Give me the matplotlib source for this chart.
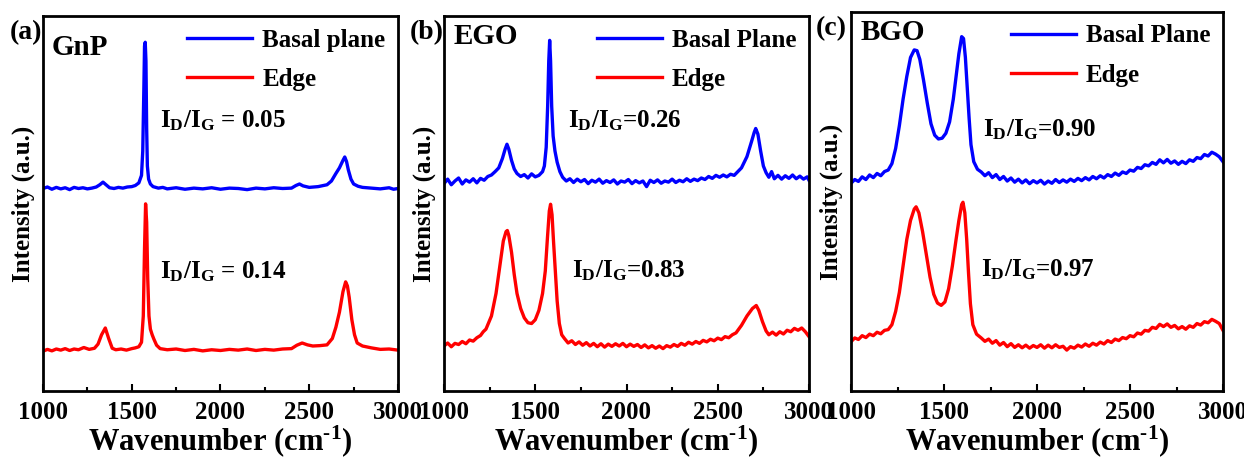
import matplotlib.pyplot as plt

plt.rcParams['font.family'] = 'Liberation Serif'
plt.rcParams['font.weight'] = 'bold'
plt.rcParams['mathtext.fontset'] = 'custom'
plt.rcParams['mathtext.rm'] = 'Liberation Serif:bold'
plt.rcParams['mathtext.it'] = 'Liberation Serif:bold'
plt.rcParams['mathtext.bf'] = 'Liberation Serif:bold'

# spectra as (wavenumber, intensity) pairs, intensity in axes units 0..1

# (a) GnP
gnp_basal = [(1000, .540), (1025, .544), (1050, .538), (1075, .543), (1100, .539), (1125, .542), (1150, .537),
             (1175, .543), (1200, .540), (1225, .542), (1250, .539), (1275, .541), (1300, .544), (1320, .550),
             (1338, .557), (1355, .550), (1375, .542), (1400, .540), (1425, .543), (1450, .541), (1475, .544),
             (1500, .545), (1520, .548), (1540, .555), (1555, .575), (1562, .640), (1568, .800), (1572, .920),
             (1576, .930), (1580, .880), (1584, .700), (1588, .600), (1595, .565), (1605, .552), (1620, .545),
             (1650, .541), (1675, .543), (1700, .539), (1750, .542), (1800, .538), (1850, .541), (1900, .539),
             (1950, .542), (2000, .538), (2050, .541), (2100, .540), (2150, .537), (2200, .541), (2250, .539),
             (2300, .542), (2350, .540), (2400, .541), (2425, .548), (2445, .552), (2465, .547), (2500, .543),
             (2550, .545), (2600, .550), (2625, .560), (2650, .580), (2670, .595), (2690, .615), (2700, .624),
             (2710, .612), (2720, .590), (2735, .565), (2750, .552), (2775, .546), (2800, .543), (2850, .541),
             (2900, .539), (2950, .542), (2975, .538), (3000, .540)]
gnp_edge = [(1000, .106), (1025, .111), (1050, .107), (1075, .112), (1100, .109), (1125, .113), (1150, .108),
            (1175, .112), (1200, .110), (1230, .116), (1260, .111), (1290, .114), (1310, .125), (1330, .150),
            (1351, .168), (1370, .140), (1390, .114), (1410, .110), (1440, .112), (1470, .109), (1500, .113),
            (1520, .115), (1540, .118), (1555, .130), (1565, .200), (1572, .380), (1578, .499), (1584, .450),
            (1590, .300), (1597, .200), (1605, .165), (1615, .150), (1625, .138), (1640, .122), (1660, .113),
            (1700, .110), (1750, .112), (1800, .108), (1850, .111), (1900, .107), (1950, .110), (2000, .108),
            (2050, .111), (2100, .109), (2150, .112), (2200, .108), (2250, .111), (2300, .109), (2350, .112),
            (2400, .113), (2430, .122), (2460, .128), (2490, .123), (2520, .120), (2560, .121), (2600, .123),
            (2630, .140), (2650, .170), (2670, .210), (2690, .265), (2705, .291), (2715, .280), (2725, .250),
            (2740, .190), (2755, .150), (2770, .128), (2800, .120), (2850, .115), (2900, .111), (2950, .112),
            (3000, .109)]

# (b) EGO
ego_basal = [(1000, .553), (1020, .565), (1040, .550), (1060, .560), (1080, .568), (1100, .552), (1120, .563),
             (1140, .557), (1160, .566), (1180, .555), (1200, .567), (1220, .562), (1240, .572), (1260, .576),
             (1280, .585), (1300, .595), (1320, .620), (1335, .645), (1345, .658), (1355, .645), (1370, .615),
             (1385, .592), (1400, .580), (1420, .572), (1440, .577), (1460, .568), (1480, .579), (1500, .571),
             (1520, .575), (1540, .585), (1550, .600), (1560, .650), (1568, .760), (1574, .880), (1579, .935),
             (1584, .880), (1590, .760), (1598, .680), (1608, .640), (1620, .610), (1635, .585), (1650, .570),
             (1670, .560), (1690, .566), (1710, .556), (1730, .565), (1750, .558), (1770, .564), (1790, .553),
             (1810, .562), (1830, .557), (1850, .565), (1870, .554), (1890, .561), (1910, .556), (1930, .563),
             (1950, .552), (1970, .560), (1990, .557), (2010, .564), (2030, .553), (2050, .561), (2070, .555),
             (2090, .560), (2110, .545), (2130, .562), (2150, .556), (2170, .563), (2190, .554), (2210, .560),
             (2230, .557), (2250, .565), (2270, .556), (2290, .562), (2310, .558), (2330, .566), (2350, .559),
             (2370, .565), (2390, .561), (2410, .568), (2430, .564), (2450, .572), (2470, .567), (2490, .575),
             (2510, .570), (2530, .576), (2550, .571), (2570, .578), (2590, .575), (2610, .585), (2630, .595),
             (2660, .625), (2685, .665), (2700, .690), (2708, .700), (2720, .685), (2735, .640), (2750, .600),
             (2765, .582), (2780, .570), (2795, .585), (2810, .566), (2830, .575), (2850, .565), (2870, .574),
             (2890, .567), (2910, .576), (2930, .566), (2950, .573), (2970, .565), (2990, .571), (3000, .562)]
ego_edge = [(1000, .120), (1020, .128), (1040, .118), (1060, .127), (1080, .124), (1100, .132), (1120, .126),
            (1140, .136), (1160, .133), (1180, .142), (1200, .148), (1215, .158), (1230, .165), (1260, .200),
            (1285, .260), (1305, .330), (1325, .400), (1340, .425), (1347, .428), (1355, .415), (1370, .370),
            (1385, .310), (1400, .260), (1420, .220), (1440, .195), (1460, .182), (1480, .180), (1500, .190),
            (1520, .215), (1540, .260), (1555, .320), (1567, .410), (1577, .480), (1584, .498), (1592, .470),
            (1600, .400), (1610, .320), (1620, .240), (1632, .180), (1645, .150), (1660, .140), (1680, .128),
            (1700, .134), (1720, .124), (1740, .131), (1760, .122), (1780, .129), (1800, .120), (1820, .127),
            (1840, .118), (1860, .126), (1880, .117), (1900, .125), (1920, .119), (1940, .126), (1960, .120),
            (1980, .127), (2000, .118), (2020, .125), (2040, .119), (2060, .124), (2080, .116), (2100, .123),
            (2120, .115), (2140, .121), (2160, .114), (2180, .120), (2200, .113), (2220, .121), (2240, .117),
            (2260, .124), (2280, .119), (2300, .127), (2320, .122), (2340, .130), (2360, .125), (2380, .132),
            (2400, .127), (2420, .135), (2440, .131), (2460, .138), (2480, .134), (2500, .141), (2520, .137),
            (2540, .145), (2560, .142), (2580, .150), (2600, .155), (2630, .175), (2660, .200), (2690, .220),
            (2711, .228), (2725, .215), (2745, .185), (2765, .160), (2780, .150), (2800, .157), (2820, .149),
            (2840, .158), (2860, .152), (2880, .162), (2900, .158), (2920, .167), (2940, .162), (2960, .168),
            (2980, .158), (3000, .145)]

# (c) BGO
bgo_basal = [(1000, .548), (1020, .558), (1040, .553), (1060, .565), (1080, .558), (1100, .570), (1120, .563),
             (1140, .574), (1160, .568), (1180, .579), (1200, .583), (1220, .600), (1240, .640), (1260, .700),
             (1280, .770), (1300, .830), (1320, .880), (1340, .900), (1355, .898), (1370, .875), (1390, .820),
             (1410, .760), (1430, .705), (1450, .675), (1470, .665), (1490, .667), (1510, .680), (1530, .710),
             (1550, .770), (1565, .830), (1580, .890), (1595, .935), (1605, .930), (1615, .880), (1625, .800),
             (1635, .720), (1645, .650), (1660, .605), (1680, .585), (1700, .578), (1720, .568), (1740, .576),
             (1760, .563), (1780, .571), (1800, .558), (1820, .566), (1840, .554), (1860, .562), (1880, .551),
             (1900, .559), (1920, .549), (1940, .557), (1960, .547), (1980, .555), (2000, .549), (2020, .556),
             (2040, .546), (2060, .554), (2080, .548), (2100, .558), (2120, .550), (2140, .557), (2160, .551),
             (2180, .559), (2200, .553), (2220, .561), (2240, .555), (2260, .563), (2280, .557), (2300, .566),
             (2320, .560), (2340, .568), (2360, .562), (2380, .571), (2400, .566), (2420, .575), (2440, .569),
             (2460, .578), (2480, .574), (2500, .583), (2520, .580), (2540, .590), (2560, .587), (2580, .597),
             (2600, .594), (2620, .603), (2640, .598), (2660, .610), (2680, .602), (2700, .611), (2720, .601),
             (2740, .607), (2760, .598), (2780, .606), (2800, .600), (2820, .610), (2840, .606), (2860, .616),
             (2880, .613), (2900, .624), (2920, .620), (2940, .630), (2960, .625), (2980, .618), (3000, .605)]
bgo_edge = [(1000, .130), (1020, .140), (1040, .136), (1060, .146), (1080, .141), (1100, .150), (1120, .146),
            (1140, .155), (1160, .151), (1180, .160), (1200, .162), (1220, .175), (1240, .210), (1260, .260),
            (1280, .330), (1300, .400), (1320, .450), (1340, .480), (1350, .486), (1365, .470), (1385, .420),
            (1405, .360), (1425, .300), (1445, .255), (1465, .232), (1485, .226), (1505, .235), (1525, .270),
            (1545, .330), (1565, .400), (1580, .450), (1595, .492), (1602, .498), (1612, .470), (1622, .400),
            (1632, .310), (1642, .230), (1655, .175), (1675, .150), (1700, .140), (1720, .131), (1740, .137),
            (1760, .126), (1780, .133), (1800, .121), (1820, .128), (1840, .117), (1860, .125), (1880, .115),
            (1900, .122), (1920, .114), (1940, .121), (1960, .113), (1980, .120), (2000, .115), (2020, .122),
            (2040, .113), (2060, .121), (2080, .114), (2100, .122), (2120, .115), (2140, .118), (2160, .108),
            (2180, .117), (2200, .113), (2220, .121), (2240, .116), (2260, .124), (2280, .118), (2300, .126),
            (2320, .121), (2340, .129), (2360, .124), (2380, .133), (2400, .128), (2420, .137), (2440, .133),
            (2460, .141), (2480, .138), (2500, .146), (2520, .143), (2540, .153), (2560, .150), (2580, .160),
            (2600, .158), (2620, .168), (2640, .165), (2660, .176), (2680, .170), (2700, .177), (2720, .168),
            (2740, .173), (2760, .164), (2780, .170), (2800, .163), (2820, .172), (2840, .168), (2860, .178),
            (2880, .174), (2900, .183), (2920, .180), (2940, .189), (2960, .184), (2980, .178), (3000, .160)]

tags = ["(a)", "(b)", "(c)"]
names = ["GnP", "EGO", "BGO"]
basal_labels = ["Basal plane", "Basal Plane", "Basal Plane"]
ratio_basal = [r"$\mathrm{I_D/I_G}$ = 0.05", r"$\mathrm{I_D/I_G}$=0.26", r"$\mathrm{I_D/I_G}$=0.90"]
ratio_edge = [r"$\mathrm{I_D/I_G}$ = 0.14", r"$\mathrm{I_D/I_G}$=0.83", r"$\mathrm{I_D/I_G}$=0.97"]
spectra = [(gnp_basal, gnp_edge), (ego_basal, ego_edge), (bgo_basal, bgo_edge)]

# axes rectangles in pixels: left, top, right, bottom
boxes = [(43, 16, 398, 391), (444, 16, 809, 391), (851, 12, 1223, 391)]
ratio_pos = [((0.33, 0.72), (0.33, 0.317)), ((0.34, 0.72), (0.35, 0.32)), ((0.355, 0.69), (0.35, 0.32))]

W, H = 1244, 458
fig = plt.figure(figsize=(W / 100, H / 100), dpi=100)

for i in range(3):
    basal, edge = spectra[i]
    l, t, r, b = boxes[i]
    ax = fig.add_axes([l / W, (H - b) / H, (r - l) / W, (b - t) / H])
    ax.plot([p[0] for p in basal], [p[1] for p in basal], color='#0000ff', lw=2.4, label=basal_labels[i])
    ax.plot([p[0] for p in edge], [p[1] for p in edge], color='#ff0000', lw=2.4, label='Edge')
    ax.set_xlim(1000, 3000)
    ax.set_ylim(0, 1)
    ax.set_xticks([1000, 1500, 2000, 2500, 3000])
    ax.set_xticks([1250, 1750, 2250, 2750], minor=True)
    ax.set_yticks([])
    ax.tick_params(axis='x', which='both', direction='in', width=1.5, labelsize=18, pad=7)
    ax.tick_params(axis='x', which='major', length=5)
    ax.tick_params(axis='x', which='minor', length=3)
    for s in ax.spines.values():
        s.set_linewidth(2)
    ax.set_xlabel(r"Wavenumber (cm$^{\text{-1}}$)", fontsize=22, fontweight='bold', labelpad=0)
    ax.set_ylabel("Intensity (a.u.)", fontsize=18, fontweight='bold', labelpad=6)
    ax.text(-0.095, 0.955, tags[i], transform=ax.transAxes, fontsize=20, fontweight='bold', va='center')
    ax.text(0.025, 0.915 if i == 0 else 0.945, names[i], transform=ax.transAxes, fontsize=21,
            fontweight='bold', va='center')
    ax.text(ratio_pos[i][0][0], ratio_pos[i][0][1], ratio_basal[i], transform=ax.transAxes, fontsize=18,
            va='center')
    ax.text(ratio_pos[i][1][0], ratio_pos[i][1][1], ratio_edge[i], transform=ax.transAxes, fontsize=18,
            va='center')
    ax.legend(loc='upper right', frameon=False, handlelength=2.6, handletextpad=0.4,
              borderaxespad=0.1, labelspacing=0.65, prop={'weight': 'bold', 'size': 18})

fig.savefig('out.png', dpi=100)
